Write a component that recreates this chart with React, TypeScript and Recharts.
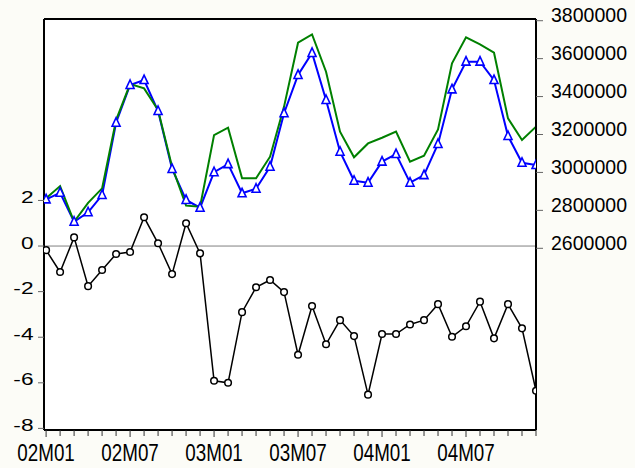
import React from "react";
import {
  ComposedChart,
  Line,
  XAxis,
  YAxis,
  ReferenceLine,
  CartesianGrid,
} from "recharts";

const months: string[] = [
  "02M01","02M02","02M03","02M04","02M05","02M06","02M07","02M08","02M09","02M10","02M11","02M12",
  "03M01","03M02","03M03","03M04","03M05","03M06","03M07","03M08","03M09","03M10","03M11","03M12",
  "04M01","04M02","04M03","04M04","04M05","04M06","04M07","04M08","04M09","04M10","04M11","04M12",
];

const labelEvery = 6;

const actual: number[] = [
  2864000, 2928000, 2740000, 2840000, 2916000, 3276000, 3466000, 3443000, 3329000, 3030000, 2825000, 2819000,
  3197000, 3236000, 2969000, 2969000, 3083000, 3347000, 3684000, 3728000, 3531000, 3215000, 3080000, 3153000,
  3183000, 3215000, 3057000, 3088000, 3227000, 3575000, 3712000, 3675000, 3631000, 3285000, 3171000, 3241000,
];

const fitted: number[] = [
  2858000, 2893000, 2740000, 2790000, 2881000, 3262000, 3461000, 3487000, 3324000, 3018000, 2855000, 2814000,
  3001000, 3044000, 2890000, 2914000, 3030000, 3312000, 3514000, 3630000, 3382000, 3109000, 2956000, 2946000,
  3057000, 3097000, 2946000, 2986000, 3150000, 3438000, 3584000, 3584000, 3487000, 3192000, 3051000, 3039000,
];

const residual: number[] = [
  -0.18, -1.14, 0.38, -1.76, -1.05, -0.35, -0.26, 1.26, 0.12, -1.23, 1.0, -0.32,
  -5.91, -6.0, -2.9, -1.81, -1.49, -2.02, -4.77, -2.63, -4.31, -3.25, -3.95, -6.52,
  -3.86, -3.86, -3.44, -3.25, -2.55, -3.98, -3.52, -2.44, -4.05, -2.55, -3.61, -6.35,
];

const leftTicks: number[] = [-8, -6, -4, -2, 0, 2];
const rightTicks: number[] = [2600000, 2800000, 3000000, 3200000, 3400000, 3600000, 3800000];

const data = months.map((m, i) => ({
  i,
  month: m,
  actual: actual[i],
  fitted: fitted[i],
  residual: residual[i],
}));

const FONT = "'Liberation Sans', Arial, sans-serif";
const LEFT_DOMAIN: [number, number] = [-8.07, 9.96];
const RIGHT_DOMAIN: [number, number] = [1642000, 3809000];

const Triangle = (props: any) => {
  const { cx, cy, index } = props;
  if (cx == null || cy == null) return null;
  return (
    <path
      key={`tri-${index}`}
      d={`M${cx},${cy - 5} L${cx + 4},${cy + 3.5} L${cx - 4},${cy + 3.5} Z`}
      fill="#ffffff"
      stroke="#0000ff"
      strokeWidth={1.6}
    />
  );
};

const Circle = (props: any) => {
  const { cx, cy, index } = props;
  if (cx == null || cy == null) return null;
  return (
    <circle
      key={`c-${index}`}
      cx={cx}
      cy={cy}
      r={3.3}
      fill="#ffffff"
      stroke="#000000"
      strokeWidth={1.5}
    />
  );
};

const XTick = (props: any) => {
  const { x, y, payload } = props;
  const idx = payload.value as number;
  const major = idx % labelEvery === 0;
  return (
    <g>
      <line x1={x} y1={y} x2={x} y2={y + (major ? 7 : 6)} stroke="#333" strokeWidth={1} />
      {major ? (
        <text
          transform={`translate(${x},${y + 30.5}) scale(0.8,1)`}
          textAnchor="middle"
          fontSize={23.5}
          fontFamily={FONT}
          fill="#000"
        >
          {months[idx]}
        </text>
      ) : null}
    </g>
  );
};

const LeftTick = (props: any) => {
  const { x, y, payload } = props;
  return (
    <g>
      <line x1={x - 6} y1={y} x2={x} y2={y} stroke="#666" strokeWidth={1} />
      <text
        transform={`translate(${x - 10.5},${y + 2.5}) scale(1.35,1)`}
        textAnchor="end"
        fontSize={16.8}
        fontFamily={FONT}
        fill="#000"
      >
        {String(payload.value)}
      </text>
    </g>
  );
};

const RightTick = (props: any) => {
  const { x, y, payload } = props;
  return (
    <g>
      <line x1={x} y1={y} x2={x + 7} y2={y} stroke="#666" strokeWidth={1} />
      <text
        transform={`translate(${x + 15},${y + 1.5}) scale(0.93,1)`}
        textAnchor="start"
        fontSize={21}
        fontFamily={FONT}
        fill="#000"
      >
        {String(payload.value)}
      </text>
    </g>
  );
};

export default function App() {
  return (
    <div style={{ width: 635, height: 468, background: "#fcfcf7" }}>
      <style>{`body{margin:0;}`}</style>
      <ComposedChart
        width={635}
        height={468}
        data={data}
        margin={{ top: 19, right: 0, bottom: 0, left: 0 }}
      >
        <CartesianGrid horizontal={false} vertical={false} fill="#ffffff" yAxisId="left" />
        <XAxis
          dataKey="i"
          type="number"
          domain={[-0.15, 35]}
          ticks={months.map((_, i) => i)}
          interval={0}
          height={38}
          axisLine={{ stroke: "#000", strokeWidth: 2 }}
          tickLine={false}
          tickSize={0}
          tickMargin={0}
          tick={<XTick />}
          allowDataOverflow
        />
        <YAxis
          yAxisId="left"
          orientation="left"
          width={44}
          domain={LEFT_DOMAIN}
          ticks={leftTicks}
          allowDataOverflow
          axisLine={{ stroke: "#000", strokeWidth: 2 }}
          tickLine={false}
          tickSize={0}
          tickMargin={0}
          tick={<LeftTick />}
        />
        <YAxis
          yAxisId="right"
          orientation="right"
          width={99}
          domain={RIGHT_DOMAIN}
          ticks={rightTicks}
          allowDataOverflow
          axisLine={{ stroke: "#000", strokeWidth: 2 }}
          tickLine={false}
          tickSize={0}
          tickMargin={0}
          tick={<RightTick />}
        />
        <ReferenceLine yAxisId="left" y={LEFT_DOMAIN[1]} stroke="#000" strokeWidth={2} ifOverflow="visible" />
        <ReferenceLine yAxisId="left" y={0} stroke="#808080" strokeWidth={1} />
        <Line
          yAxisId="left"
          dataKey="residual"
          type="linear"
          stroke="#000000"
          strokeWidth={1.5}
          dot={<Circle />}
          isAnimationActive={false}
        />
        <Line
          yAxisId="right"
          dataKey="fitted"
          type="linear"
          stroke="#0000ff"
          strokeWidth={2}
          dot={<Triangle />}
          isAnimationActive={false}
        />
        <Line
          yAxisId="right"
          dataKey="actual"
          type="linear"
          stroke="#008000"
          strokeWidth={2}
          dot={false}
          isAnimationActive={false}
        />
      </ComposedChart>
    </div>
  );
}
